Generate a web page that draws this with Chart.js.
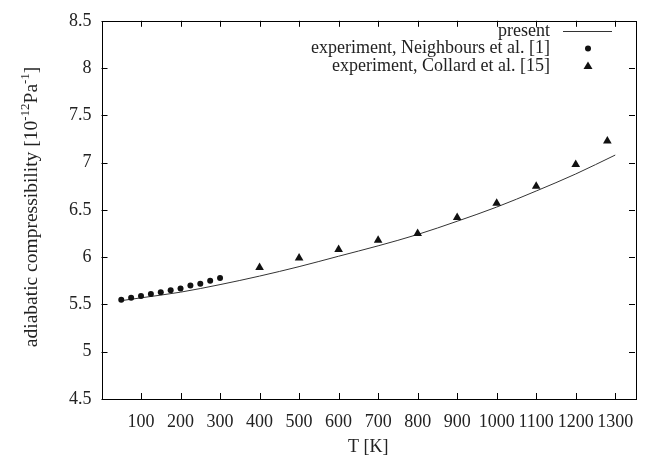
<!DOCTYPE html>
<html><head><meta charset="utf-8">
<script src="https://cdn.jsdelivr.net/npm/chart.js@4/dist/chart.umd.min.js"></script>
<style>html,body{margin:0;padding:0;background:#fff}#c{display:block}</style>
</head><body>
<canvas id="c" width="646" height="459"></canvas>
<script>
// ---- data ----
const presentT = [50, 100, 200, 300, 400, 500, 600, 700, 800, 900, 1000, 1100, 1200, 1300];
const presentK = [5.54, 5.57, 5.63, 5.71, 5.80, 5.90, 6.01, 6.12, 6.24, 6.38, 6.53, 6.70, 6.88, 7.08];
const neighboursT = [50, 75, 100, 125, 150, 175, 200, 225, 250, 275, 300];
const neighboursK = [5.55, 5.57, 5.59, 5.61, 5.63, 5.65, 5.67, 5.70, 5.72, 5.75, 5.78];
const collardT = [400, 500, 600, 700, 800, 900, 1000, 1100, 1200, 1280];
const collardK = [5.89, 5.99, 6.08, 6.18, 6.25, 6.42, 6.57, 6.75, 6.98, 7.23];
const xTickValues = [100, 200, 300, 400, 500, 600, 700, 800, 900, 1000, 1100, 1200, 1300];
const yTickValues = [4.5, 5, 5.5, 6, 6.5, 7, 7.5, 8, 8.5];
const seriesNames = ['present', 'experiment, Neighbours et al. [1]', 'experiment, Collard et al. [15]'];
const xTitle = 'T [K]';
const yTitleParts = [['adiabatic compressibility [10', false], ['-12', true], ['Pa', false], ['-1', true], [']', false]];

const FONT = "'Liberation Serif', 'Times New Roman', serif";
const FS = 18;
const toXY = (xs, ys) => xs.map((x, i) => ({x: x, y: ys[i]}));

const framePlugin = {
  id: 'frame',
  afterDraw(chart) {
    const ctx = chart.ctx;
    const {left, right, top, bottom} = chart.chartArea;
    const xs = chart.scales.x, ys = chart.scales.y;
    ctx.save();
    ctx.strokeStyle = '#000';
    ctx.lineWidth = 1;
    ctx.strokeRect(Math.round(left) + 0.5, Math.round(top) + 0.5, Math.round(right - left), Math.round(bottom - top));
    ctx.beginPath();
    xTickValues.forEach(v => {
      const p = Math.round(xs.getPixelForValue(v)) + 0.5;
      ctx.moveTo(p, bottom); ctx.lineTo(p, bottom - 6);
      ctx.moveTo(p, top); ctx.lineTo(p, top + 6);
    });
    yTickValues.forEach(v => {
      const p = Math.round(ys.getPixelForValue(v)) + 0.5;
      ctx.moveTo(left, p); ctx.lineTo(left + 6, p);
      ctx.moveTo(right, p); ctx.lineTo(right - 6, p);
    });
    ctx.stroke();

    // x title
    ctx.fillStyle = '#222';
    ctx.font = FS + 'px ' + FONT;
    ctx.textAlign = 'center';
    ctx.textBaseline = 'alphabetic';
    ctx.fillText(xTitle, (left + right) / 2, 452);

    // y title with superscripts
    const mainF = '19.5px ' + FONT, supF = '13px ' + FONT;
    let total = 0;
    yTitleParts.forEach(([t, s]) => { ctx.font = s ? supF : mainF; total += ctx.measureText(t).width; });
    const cy = (top + bottom) / 2 - 3;
    ctx.translate(37, cy);
    ctx.rotate(-Math.PI / 2);
    ctx.textAlign = 'left';
    let x = -total / 2;
    yTitleParts.forEach(([t, s]) => {
      ctx.font = s ? supF : mainF;
      ctx.fillText(t, x, s ? -8.5 : 0);
      x += ctx.measureText(t).width;
    });
    ctx.restore();

    // legend
    ctx.save();
    ctx.font = FS + 'px ' + FONT;
    ctx.fillStyle = '#222';
    ctx.textAlign = 'right';
    ctx.textBaseline = 'middle';
    const rows = [31, 48.5, 66];
    const tx = 550, sx = 588;
    seriesNames.forEach((n, i) => ctx.fillText(n, tx, rows[i]));
    ctx.strokeStyle = '#333';
    ctx.lineWidth = 1;
    ctx.beginPath(); ctx.moveTo(563, rows[0] + 0.5); ctx.lineTo(612, rows[0] + 0.5); ctx.stroke();
    ctx.fillStyle = '#111';
    ctx.beginPath(); ctx.arc(sx, rows[1], 3, 0, Math.PI * 2); ctx.fill();
    ctx.beginPath(); ctx.moveTo(sx, rows[2] - 4.5); ctx.lineTo(sx + 4.5, rows[2] + 3); ctx.lineTo(sx - 4.5, rows[2] + 3); ctx.closePath(); ctx.fill();
    ctx.restore();
  }
};

new Chart(document.getElementById('c'), {
  type: 'scatter',
  data: {
    datasets: [
      {label: seriesNames[0], data: toXY(presentT, presentK), showLine: true, borderColor: '#333', borderWidth: 1, pointRadius: 0, tension: 0.4, cubicInterpolationMode: 'monotone', order: 3},
      {label: seriesNames[1], data: toXY(neighboursT, neighboursK), backgroundColor: '#111', borderColor: '#111', pointRadius: 3, pointStyle: 'circle', borderWidth: 0, order: 1},
      {label: seriesNames[2], data: toXY(collardT, collardK), backgroundColor: '#111', borderColor: '#111', pointRadius: 5, pointStyle: 'triangle', borderWidth: 0, order: 2}
    ]
  },
  options: {
    responsive: false,
    animation: false,
    devicePixelRatio: 1,
    layout: {padding: {left: 0, right: 11, top: 14, bottom: 0}},
    plugins: {legend: {display: false}, tooltip: {enabled: false}},
    scales: {
      x: {
        type: 'linear', min: 0, max: 1350,
        afterBuildTicks: a => { a.ticks = xTickValues.map(v => ({value: v})); },
        afterFit: s => { s.height = 60; },
        grid: {display: false, drawTicks: false},
        border: {display: false},
        ticks: {padding: 12, color: '#222', font: {family: FONT, size: FS}, maxRotation: 0, autoSkip: false, callback: v => String(v)}
      },
      y: {
        type: 'linear', min: 4.5, max: 8.5,
        afterBuildTicks: a => { a.ticks = yTickValues.map(v => ({value: v})); },
        afterFit: s => { s.width = 101.5; },
        grid: {display: false, drawTicks: false},
        border: {display: false},
        ticks: {padding: 10, color: '#222', font: {family: FONT, size: FS}, autoSkip: false, callback: v => String(v)}
      }
    }
  },
  plugins: [framePlugin]
});
</script>
</body></html>
